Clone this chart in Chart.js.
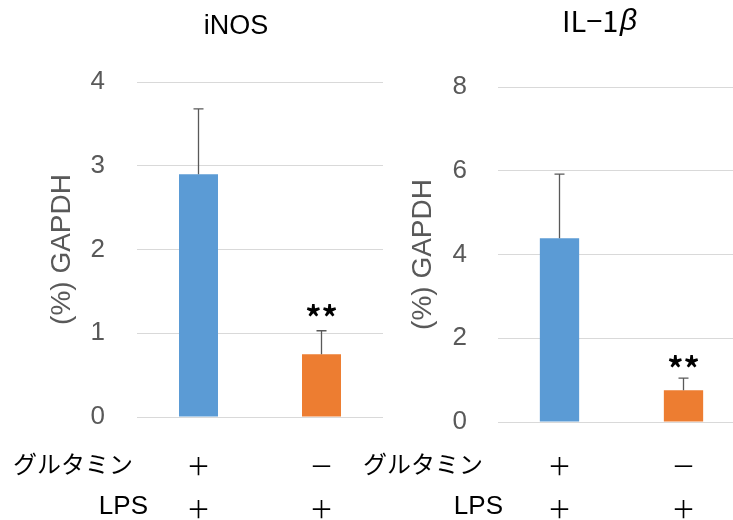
<!DOCTYPE html>
<html>
<head>
<meta charset="utf-8">
<script src="https://cdn.jsdelivr.net/npm/chart.js@4.4.1/dist/chart.umd.min.js"></script>
<style>
    body { margin: 0; width: 733px; height: 520px; overflow: hidden; background: #fff; position: relative; }
    canvas { position: absolute; top: 0; }
</style>
</head>
<body>
<canvas id="inosChart" width="390" height="520" style="left:0px"></canvas>
<canvas id="il1bChart" width="400" height="520" style="left:360px"></canvas>
<script>
// Row labels under the bars and the +/- marks per group
const rowNames = ["グルタミン", "LPS"];
const glutamine = ["＋", "－"];
const lps = ["＋", "＋"];

// iNOS values (% of GAPDH) and their error bars
const inosMean = [2.90, 0.75];
const inosErr = [0.78, 0.28];
const inosTicks = [0, 1, 2, 3, 4];

// IL-1 beta values (% of GAPDH) and their error bars
const il1bMean = [4.39, 0.76];
const il1bErr = [1.53, 0.29];
const il1bTicks = [0, 2, 4, 6, 8];

// significance marks above each bar
const sigMarks = ["", "**"];
const barColors = ["#5B9BD5", "#ED7D31"];

const labels = glutamine.map((g, i) => [g, lps[i]]);
const latin = "'Liberation Sans', 'Noto Sans CJK JP', sans-serif";
const cjk = "'Noto Sans CJK JP', sans-serif";

// Draws error bars, ** marks, titles and row labels
const extrasPlugin = {
    id: "extras",
    afterDatasetsDraw(chart, args, opts) {
        const ctx = chart.ctx;
        const yScale = chart.scales.y;
        const meta = chart.getDatasetMeta(0);
        ctx.save();
        meta.data.forEach((bar, i) => {
            const top = yScale.getPixelForValue(opts.means[i] + opts.errors[i]);
            ctx.strokeStyle = "#595959";
            ctx.lineWidth = 1.3;
            ctx.beginPath();
            ctx.moveTo(bar.x, bar.y);
            ctx.lineTo(bar.x, top);
            ctx.moveTo(bar.x - 5, top);
            ctx.lineTo(bar.x + 5, top);
            ctx.stroke();
            if (sigMarks[i]) {
                ctx.fillStyle = "#000";
                ctx.font = "bold 32px " + cjk;
                ctx.textAlign = "center";
                ctx.textBaseline = "middle";
                ctx.fillText(sigMarks[i], bar.x, top - opts.markGap);
            }
        });
        ctx.restore();
    },
    afterDraw(chart, args, opts) {
        const ctx = chart.ctx;
        const area = chart.chartArea;
        ctx.save();
        ctx.fillStyle = "#000";
        ctx.textBaseline = "middle";
        opts.drawTitle(ctx);

        // y axis title, rotated
        ctx.save();
        ctx.translate(opts.yTitleX, (area.top + area.bottom) / 2);
        ctx.rotate(-Math.PI / 2);
        ctx.textAlign = "center";
        ctx.fillStyle = "#595959";
        ctx.font = "28px " + latin;
        ctx.fillText("(%) GAPDH", 0, 0);
        ctx.restore();

        // row labels left of the +/- rows
        ctx.textAlign = "right";
        ctx.font = "24px " + cjk;
        ctx.fillText(rowNames[0], opts.rowX[0], 464);
        ctx.font = "26px " + latin;
        ctx.fillText(rowNames[1], opts.rowX[1], 507);
        ctx.restore();
    }
};

function makeChart(id, means, errors, tickValues, cfg) {
    return new Chart(document.getElementById(id), {
        type: "bar",
        data: {
            labels: labels,
            datasets: [{
                data: means,
                backgroundColor: barColors,
                barPercentage: 0.317,
                categoryPercentage: 1
            }]
        },
        options: {
            responsive: false,
            animation: false,
            layout: { padding: { top: cfg.top, right: cfg.right, left: 0, bottom: 0 } },
            plugins: {
                legend: { display: false },
                tooltip: { enabled: false },
                extras: {
                    means: means,
                    errors: errors,
                    markGap: cfg.markGap,
                    yTitleX: cfg.yTitleX,
                    rowX: cfg.rowX,
                    drawTitle: cfg.drawTitle
                }
            },
            scales: {
                x: {
                    grid: { display: false },
                    border: { display: false },
                    ticks: {
                        color: "#000",
                        padding: cfg.xPad,
                        font: { family: cjk, size: 24, lineHeight: "43px" }
                    },
                    afterFit: s => { s.height = cfg.xHeight; }
                },
                y: {
                    min: 0,
                    max: tickValues[tickValues.length - 1],
                    grid: { color: "#D9D9D9", lineWidth: 1, drawTicks: false },
                    border: { display: false },
                    ticks: {
                        color: "#595959",
                        padding: cfg.yPad,
                        font: { family: latin, size: 26 }
                    },
                    afterBuildTicks: s => { s.ticks = tickValues.map(v => ({ value: v })); },
                    afterFit: s => { s.width = cfg.yWidth; }
                }
            }
        },
        plugins: [extrasPlugin]
    });
}

makeChart("inosChart", inosMean, inosErr, inosTicks, {
    top: 82, right: 7, yWidth: 137, xHeight: 103, xPad: 19.5, yPad: 32,
    markGap: 13, yTitleX: 62, rowX: [133, 148],
    drawTitle: ctx => {
        ctx.textAlign = "center";
        ctx.font = "27px " + latin;
        ctx.fillText("iNOS", 236, 27);
    }
});

makeChart("il1bChart", il1bMean, il1bErr, il1bTicks, {
    top: 87, right: 14.5, yWidth: 137.5, xHeight: 98, xPad: 14.5, yPad: 30.5,
    markGap: 9, yTitleX: 63, rowX: [123, 143],
    drawTitle: ctx => {
        ctx.textAlign = "left";
        ctx.font = "29px " + cjk;
        ctx.fillText("IL−1", 202, 21);
        ctx.font = "italic 30px " + latin;
        ctx.fillText("β", 260, 22);
    }
});
</script>
</body>
</html>
